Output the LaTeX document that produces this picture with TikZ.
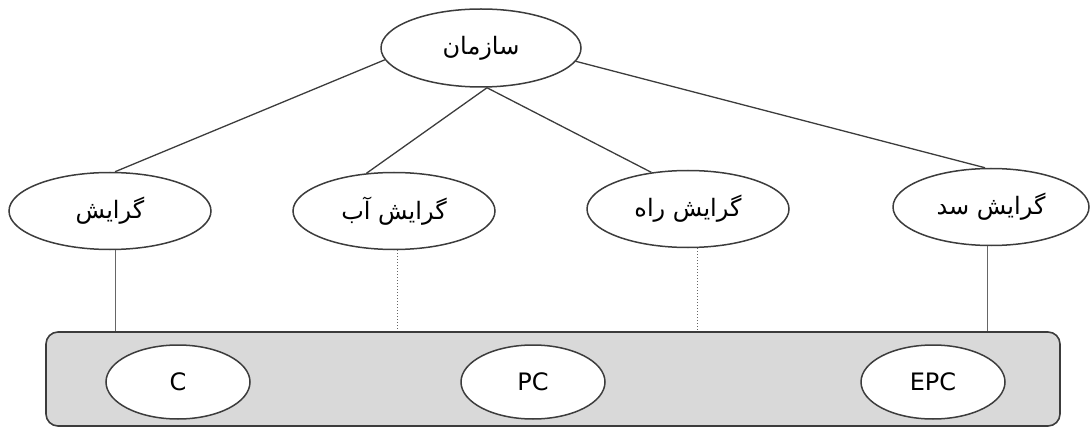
\documentclass[tikz,border=0pt]{standalone}
\usepackage{fontspec}
\setmainfont{DejaVu Sans}
\newfontfamily\farsi[Script=Arabic]{DejaVu Sans}
\TeXXeTstate=1
\usetikzlibrary{shapes,positioning,calc}
\definecolor{linegray}{HTML}{3C3C3C}
\definecolor{boxgray}{HTML}{D9D9D9}

\tikzset{
  oval/.style={ellipse, draw=linegray, line width=0.75pt, fill=white, inner sep=0pt,
    font=\farsi\fontsize{12}{14}\selectfont},
  branch/.style={oval, minimum width=101pt, minimum height=38.5pt},
  member/.style={oval, minimum width=72pt, minimum height=37pt, font=\fontsize{12}{14}\selectfont},
  groupbox/.style={draw=linegray, line width=0.8pt, fill=boxgray, rounded corners=6pt,
    minimum width=507pt, minimum height=47pt, inner sep=0pt},
  link/.style={draw=linegray, line width=0.65pt},
  drop/.style={draw=gray!80!black, line width=0.5pt}
}

\begin{document}
\begin{tikzpicture}[x=0.5pt, y=-0.5pt]
\useasboundingbox (0,0) rectangle (1091,427);

% 对象
\node[groupbox] (box) at (553,379) {};
\node[oval, minimum width=100pt, minimum height=39pt] (org) at (481,48) {\beginR سازمان\endR};
\node[branch] (grp1) at (110,211) {\beginR گرایش\endR};
\node[branch] (grp2) at (394,211) {\beginR گرایش آب\endR};
\node[branch] (grp3) at (688,209) {\beginR گرایش راه\endR};
\node[branch, minimum width=98pt] (grp4) at (991,207) {\beginR گرایش سد\endR};
\node[member] (c) at (178,382) {C};
\node[member] (pc) at (533,382) {PC};
\node[member] (epc) at (933,382) {EPC};

% 连线
\draw[link] (org.187) -- ([xshift=2.5pt]grp1.north);
\draw[link] ([xshift=3pt]org.south) -- (grp2.126);
\draw[link] ([xshift=3pt]org.south) -- (grp3.135);
\draw[link] (org.352) -- ([xshift=-3pt]grp4.north);

\draw[drop] ([xshift=2.5pt]grp1.south) -- ([xshift=2.5pt]grp1.south |- box.north);
\draw[drop, densely dotted] ([xshift=1.5pt]grp2.south) -- ([xshift=1.5pt]grp2.south |- box.north);
\draw[drop, densely dotted] ([xshift=4.5pt]grp3.south) -- ([xshift=4.5pt]grp3.south |- box.north);
\draw[drop] ([xshift=-2pt]grp4.south) -- ([xshift=-2pt]grp4.south |- box.north);
\end{tikzpicture}
\end{document}
